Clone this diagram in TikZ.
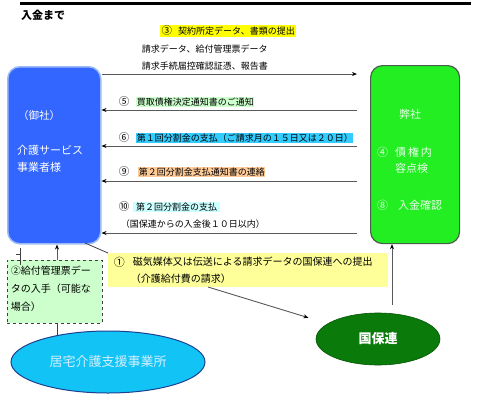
\documentclass[tikz,border=0pt]{standalone}
\usepackage{fontspec}
\setmainfont{Noto Sans CJK JP}
\usetikzlibrary{arrows.meta,shapes.geometric}
\definecolor{bluebox}{HTML}{3366FF}
\definecolor{blueedge}{HTML}{9DBBF5}
\definecolor{greenbox}{HTML}{22EE22}
\definecolor{greenedge}{HTML}{4A5F4A}
\definecolor{hlgreen}{HTML}{CCFFCC}
\definecolor{hlblue}{HTML}{33CCFF}
\definecolor{hlorange}{HTML}{FFCC99}
\definecolor{hlcyan}{HTML}{CCFFFF}
\definecolor{hlyellow}{HTML}{FFFF00}
\definecolor{paleyellow}{HTML}{FFFF99}
\definecolor{kyofill}{HTML}{11C4F5}
\definecolor{kyoedge}{HTML}{1F3F8F}
\definecolor{kyotext}{HTML}{D6EEFF}
\definecolor{kkfill}{HTML}{0A7A0A}
\begin{document}
\begin{tikzpicture}[x=1pt,y=-1pt,
  lbl/.style={font=\fontsize{9}{11}\selectfont, inner sep=0.6pt, anchor=west},
  num/.style={font=\fontsize{10.5}{12}\selectfont, inner sep=0.6pt, anchor=west},
  boxtxt/.style={font=\fontsize{11}{13}\selectfont, inner sep=0pt, anchor=west, text=white},
  arr/.style={draw=black!65, line width=0.9pt, -{Stealth[length=5pt,width=4pt,color=black]}},
  ln/.style={draw=black!75, line width=0.8pt}]
\useasboundingbox (0,0) rectangle (482,400);
\fill[white] (0,0) rectangle (482,400);
% top rule and title
\coordinate (tl) at (20,3);
\coordinate (tr) at (471,3);
\draw[line width=3pt] (tl) -- (tr);
\node[anchor=west, font=\fontsize{11}{13}\selectfont\bfseries, inner sep=0pt] (title) at (21,15) {入金まで};
% main boxes
\node[draw=blueedge, line width=1.5pt, fill=bluebox, rounded corners=12pt, minimum width=93pt, minimum height=177pt, anchor=north west, inner sep=0pt] (bl) at (7,66) {};
\node[draw=greenedge, line width=1.2pt, fill=greenbox, rounded corners=12pt, minimum width=89pt, minimum height=178pt, anchor=north west, inner sep=0pt] (gr) at (370,65) {};
% text in blue box
\node[boxtxt, font=\fontsize{10.5}{13}\selectfont] (gosha) at (18,116) {（御社）};
\node[boxtxt] (kaigo1) at (17,150) {介護サービス};
\node[boxtxt] (kaigo2) at (17,167) {事業者様};
% text in green box
\node[boxtxt, anchor=center, text=white!92!green] (heisha) at (410,114) {弊社};
\node[boxtxt, text=white!92!green] (g4) at (377,152) {④};
\node[boxtxt, text=white!92!green] (g4t) at (395,152) {債\,権\,内};
\node[boxtxt, text=white!92!green] (g4u) at (395,168) {容点検};
\node[boxtxt, text=white!92!green] (g8) at (377,205) {⑧};
\node[boxtxt, text=white!92!green] (g8t) at (398,205) {入金確認};
% top labels
\node[lbl, fill=hlyellow, inner sep=1.5pt] (l3) at (160,31) {{\fontsize{10.5}{12}\selectfont ③}\hspace{6pt}契約所定データ、書類の提出};
\node[lbl] (l3b) at (141,49) {請求データ、給付管理票データ};
\node[lbl] (l3c) at (141,66) {請求手続届控確認証憑、報告書};
% horizontal arrows
\coordinate (a3) at (0,74);
\coordinate (a5) at (0,110);
\coordinate (a6) at (0,146);
\coordinate (a9) at (0,181);
\coordinate (a10) at (0,233);
\draw[arr, shorten >=13pt] (bl.east |- a3) -- (gr.west |- a3);
\draw[arr, shorten <=13pt] (gr.west |- a5) -- (bl.east |- a5);
\draw[arr, shorten <=13pt] (gr.west |- a6) -- (bl.east |- a6);
\draw[arr, shorten <=13pt] (gr.west |- a9) -- (bl.east |- a9);
\draw[arr, shorten <=13pt] (gr.west |- a10) -- (bl.east |- a10);
% arrow labels
\node[num] (n5) at (118,102) {⑤};
\node[lbl, fill=hlgreen] (t5) at (136,102) {買取債権決定通知書のご通知};
\node[num] (n6) at (118,138) {⑥};
\node[lbl, fill=hlblue] (t6) at (136,138) {第１回分割金の支払（ご請求月の１５日又は２０日）};
\node[num] (n9) at (118,172) {⑨};
\node[lbl, fill=hlorange] (t9) at (138,172) {第２回分割金支払通知書の連絡};
\node[num] (n10) at (118,207) {⑩};
\node[lbl, fill=hlcyan, inner xsep=3pt] (t10) at (133,207) {第２回分割金の支払};
\node[lbl] (t10b) at (120,224) {（国保連からの入金後１０日以内）};
% step 1 box
\node[fill=paleyellow, minimum width=280pt, minimum height=34pt, anchor=north west, inner sep=0pt] (box1) at (108,253) {};
\node[lbl, font=\fontsize{11}{12}\selectfont] (n1) at (113,262) {①};
\node[lbl, font=\fontsize{10}{12}\selectfont] (t1) at (132,262) {磁気媒体又は伝送による請求データの国保連への提出};
\node[lbl, font=\fontsize{10}{12}\selectfont] (t1b) at (130,279) {（介護給付費の請求）};
% ellipses
\node[ellipse, draw=kyoedge, line width=1pt, fill=kyofill, minimum width=194pt, minimum height=62pt, inner sep=0pt, text=kyotext, font=\fontsize{13}{15}\selectfont] (ky) at (108,362) {居宅介護支援事業所};
\node[ellipse, draw=kkfill!70!black, line width=0.6pt, fill=kkfill, minimum width=124pt, minimum height=52pt, inner sep=0pt, text=white, font=\fontsize{13}{15}\selectfont\bfseries] (kk) at (378,339) {国保連};
% step 2 dashed box
\node[draw=black!75, dashed, line width=0.8pt, fill=hlgreen, minimum width=95pt, minimum height=63pt, anchor=north west, inner sep=0pt] (db) at (7,260) {};
\node[lbl, font=\fontsize{10}{12}\selectfont] (d1) at (10,271) {②給付管理票デー};
\node[lbl, font=\fontsize{10}{12}\selectfont] (d2) at (10,289) {タの入手（可能な};
\node[lbl, font=\fontsize{10}{12}\selectfont] (d3) at (10,307) {場合）};
% connectors around step 1 / step 2
\coordinate (bb) at (85,243);
\draw[ln] (bb) -- (box1.north west);
\coordinate (p1) at (208,287);
\draw[arr, shorten >=20pt] (p1) -- (kk);
\coordinate (kx) at (392,0);
\draw[arr, shorten <=8pt] (kk.north -| kx) -- (gr.south -| kx);
\coordinate (bx) at (57,0);
\draw[arr] (db.north -| bx) -- (bl.south -| bx);
\coordinate (kyt) at (57,336);
\draw[ln] (kyt) -- (db.south -| bx);
\coordinate (m1) at (20,248);
\coordinate (m2) at (20,265);
\coordinate (m3) at (16,254);
\draw[ln] (m1) -- (m2);
\draw[ln] (m3) -- (m3 -| m1);
\end{tikzpicture}
\end{document}
